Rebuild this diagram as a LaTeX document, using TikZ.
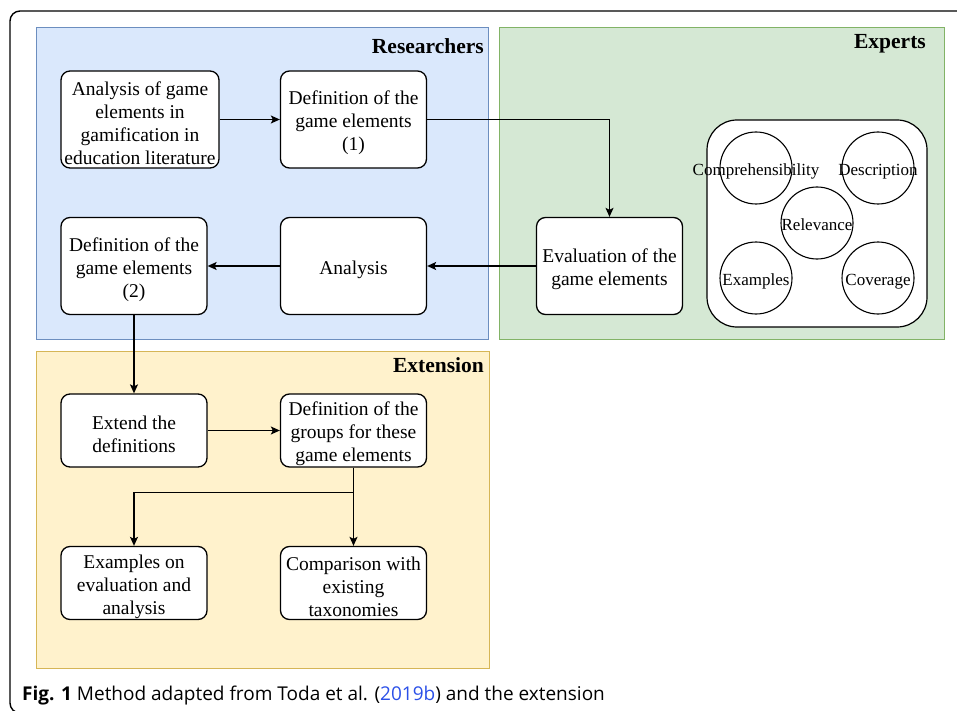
\documentclass[tikz,border=0pt]{standalone}
\usepackage{fontspec}
\setmainfont{Liberation Serif}
\newfontfamily\capfont{Open Sans}
\usepackage{xcolor}
\usetikzlibrary{arrows.meta}
\definecolor{ResFill}{HTML}{DAE8FC}
\definecolor{ResLine}{HTML}{6C8EBF}
\definecolor{ExpFill}{HTML}{D5E8D4}
\definecolor{ExpLine}{HTML}{82B366}
\definecolor{ExtFill}{HTML}{FFF2CC}
\definecolor{ExtLine}{HTML}{D6B656}
\definecolor{CiteBlue}{HTML}{2B50E8}
\newcommand{\BoxFont}[0]{\fontsize{19.5}{23}\selectfont}
\newcommand{\CritFont}[0]{\fontsize{17}{20}\selectfont}
\newcommand{\HeadFont}[0]{\fontsize{21.5}{24}\selectfont\bfseries}
\newcommand{\CritText}[1]{\makebox[0pt]{\raisebox{-7.5pt}[0pt][0pt]{#1}}}

\begin{document}
\begin{tikzpicture}[x=1pt, y=-1pt,
  stepbox/.style={draw, line width=1.3pt, fill=white, rounded corners=9pt,
    align=flush center, text width=144pt, inner sep=0pt, font=\BoxFont,
    execute at begin node={\rule{0pt}{21pt}},
    minimum width=146, minimum height=97},
  crit/.style={draw, line width=1.1pt, fill=white, circle, inner sep=0pt,
    minimum size=72, font=\CritFont},
  head/.style={anchor=base east, inner sep=0pt, font=\HeadFont},
  arr/.style={line width=1.3pt, -{Stealth[length=9pt, width=8pt, inset=2pt]}}]

  \useasboundingbox (0,0) rectangle (957,711);

  \begin{scope}
    \clip (0,0) rectangle (957,711);
    \draw[line width=1.4pt, rounded corners=10pt] (10,11) rectangle (985,713); %% frame
  \end{scope}

  %% the three lanes
  \draw[fill=ResFill, draw=ResLine, line width=1pt] (36,28) rectangle (488,339);
  \draw[fill=ExpFill, draw=ExpLine, line width=1pt] (499,28) rectangle (944,339);
  \draw[fill=ExtFill, draw=ExtLine, line width=1pt] (36,351) rectangle (489,668);

  \node[head] (researchers) at (484,54) {Researchers};
  \node[head] (experts) at (926,49) {Experts};
  \node[head] (extension) at (484,372) {Extension};

  %% researchers
  \node[stepbox, minimum width=158, text width=156pt] (litana) at (140,119.5)
  {Analysis of game\\elements in\\gamification in\\education literature};
  \node[stepbox] (defone) at (353.5,119.5) {Definition of the\\game elements\\(1)};
  \node[stepbox] (deftwo) at (134,266) {Definition of the\\game elements\\(2)};
  \node[stepbox] (analysis) at (353.5,266) {Analysis};

  %% experts
  \node[stepbox] (evaluation) at (609.5,266) {Evaluation of the\\game elements};
  \node[draw, line width=1.2pt, fill=white, rounded corners=30pt,
    minimum width=220, minimum height=207] (criteria) at (817,223.5) {};
  \node[crit] (compr) at (756,168) {\CritText{Comprehensibility}};
  \node[crit] (descr) at (878,168) {\CritText{Description}};
  \node[crit] (relev) at (817,223) {\CritText{Relevance}};
  \node[crit] (exmpl) at (756,278) {\CritText{Examples}};
  \node[crit] (cover) at (878,278) {\CritText{Coverage}};

  %% extension
  \node[stepbox, minimum height=73] (extend) at (134,430.5) {Extend the\\definitions};
  \node[stepbox, minimum height=73] (groups) at (353.5,430.5)
  {Definition of the\\groups for these\\game elements};
  \node[stepbox, minimum height=73] (examples) at (134,583)
  {Examples on\\evaluation and\\analysis};
  \node[stepbox, minimum height=73] (compare) at (353.5,583)
  {Comparison with\\existing\\taxonomies};

  %% connectors
  \draw[arr] (litana) -- (defone);
  \draw[arr] (defone.east) -| (evaluation.north);
  \draw[arr] (evaluation) -- (analysis);
  \draw[arr] (analysis) -- (deftwo);
  \draw[arr] (deftwo) -- (extend);
  \draw[arr] (extend) -- (groups);
  \draw[arr] (groups) -- (compare);
  \draw[arr] (groups.south) -- ++(0,25) -| (examples.north);

  \node[anchor=base west, inner sep=0pt, font=\capfont\fontsize{19}{23}\selectfont] (caption) at (22,700)
  {\textbf{Fig. 1} Method adapted from Toda et al. (\textcolor{CiteBlue}{2019b}) and the extension};

\end{tikzpicture}
\end{document}
